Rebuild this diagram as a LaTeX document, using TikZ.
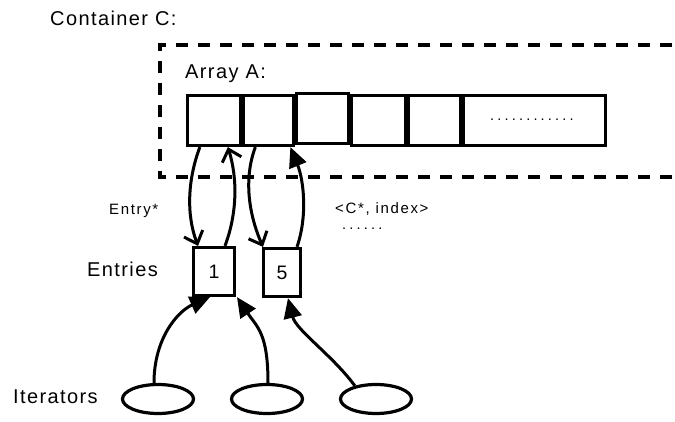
\documentclass[tikz,border=0pt]{standalone}
\usepackage{fontspec}
\setmainfont{Liberation Sans}
\newfontfamily\bigfont[LetterSpace=7]{Liberation Sans}
\newfontfamily\smallfont[LetterSpace=11]{Liberation Sans}
\newfontfamily\dotfont[LetterSpace=22]{Liberation Sans}
\usetikzlibrary{arrows.meta,shapes.geometric}

\begin{document}
\begin{tikzpicture}[x=1pt,y=-1pt,
  cell/.style={draw,line width=3.2pt,minimum height=50pt,inner sep=0pt},
  entry/.style={draw,line width=3.2pt,minimum height=48pt,inner sep=0pt,font=\bigfont\fontsize{19.5}{23}\selectfont},
  iter/.style={draw,ellipse,line width=3.2pt,minimum width=71pt,minimum height=29pt,inner sep=0pt},
  big/.style={anchor=base west,inner sep=0pt,font=\bigfont\fontsize{20}{24}\selectfont},
  small/.style={anchor=base west,inner sep=0pt,font=\smallfont\fontsize{15}{18}\selectfont},
  dots/.style={anchor=base west,inner sep=0pt,font=\dotfont\fontsize{14.5}{17}\selectfont},
  ptr/.style={line width=3pt,-{Straight Barb[length=11pt,width=20pt]}},
  ref/.style={line width=3pt,-{Triangle[length=20pt,width=18pt]}}]
  \useasboundingbox (0,0) rectangle (675,421);
  % container and array
  \draw[line width=3.3pt,dash pattern=on 12pt off 10pt,dash phase=16pt] (700,45) -- (160,45) -- (160,177) -- (700,177);
  \node[big] (ctitle) at (50,25) {Container C:};
  \node[big] (atitle) at (185,78) {Array A:};
  \node[cell,minimum width=52.7pt] (c1) at (213.85,120.5) {};
  \node[cell,minimum width=50.3pt] (c2) at (268.35,120.5) {};
  \node[cell,minimum width=52pt] (c3) at (322.5,118.5) {};
  \node[cell,minimum width=54pt] (c4) at (378.5,120.5) {};
  \node[cell,minimum width=52pt] (c5) at (434.5,120.5) {};
  \node[cell,minimum width=142pt] (c6) at (534.5,120.5) {};
  \node[dots] (more) at (490,120) {............};
  % entries
  \node[entry,minimum width=41pt] (e1) at (214,271.5) {1};
  \node[entry,minimum width=37pt] (e5) at (282,272.5) {5};
  \node[big] (etitle) at (87,276) {Entries};
  \node[small] (eptr) at (109,214) {Entry*};
  \node[small] (cidx) at (335,213) {<C*, index>};
  \node[dots] (etc) at (342,229) {......};
  \draw[ptr] ([xshift=-14pt]c1.south) .. controls +(-12,32) and +(-12,-32) .. ([xshift=-16pt]e1.north);
  \draw[ptr] ([xshift=11pt]e1.north) .. controls +(12,-32) and +(10,32) .. ([xshift=14pt]c1.south);
  \draw[ptr] ([xshift=-13pt]c2.south) .. controls +(-12,32) and +(-14,-32) .. ([xshift=-19pt]e5.north);
  \draw[ref] ([xshift=15pt]e5.north) .. controls +(11,-32) and +(13,32) .. ([xshift=22pt]c2.south);
  % iterators
  \node[iter] (i1) at (158,399) {};
  \node[iter] (i2) at (267,399) {};
  \node[iter] (i3) at (376,399) {};
  \node[big] (ititle) at (13,403) {Iterators};
  \draw[ref] ([xshift=-4pt]i1.north) .. controls +(0,-45) and +(-32,14) .. ([xshift=-4pt]e1.south);
  \draw[ref] ([xshift=1pt]i2.north) .. controls +(0,-50) and +(20,30) .. ([xshift=23pt]e1.south);
  \draw[ref] (i3.148) .. controls +(-22,-30) and +(8,32) .. ([xshift=6pt]e5.south);
\end{tikzpicture}
\end{document}
